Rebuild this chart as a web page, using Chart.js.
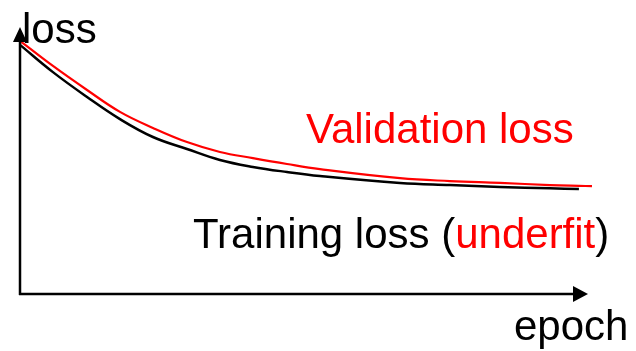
<!DOCTYPE html>
<html>
<head>
<meta charset="utf-8">
<script src="https://cdn.jsdelivr.net/npm/chart.js@4/dist/chart.umd.min.js"></script>
<style>
  html, body { margin: 0; padding: 0; background: #fff; }
  #wrap { width: 636px; height: 351px; }
</style>
</head>
<body>
<div id="wrap"><canvas id="grafico" width="636" height="351"></canvas></div>
<script>
// epochs (0..100) and loss values (0..100)
const epocas = [0, 5.8, 11.8, 17.6, 23.4, 29.4, 35.2, 41.0, 47.0, 52.8, 66.9, 75.7, 84.5, 93.3, 98.4, 100.7];
const lossTrain = [93.3, 83.1, 73.8, 65.5, 58.8, 54.3, 50.2, 47.6, 45.7, 44.2, 41.6, 40.8, 40.1, 39.6, 39.3, null];
const lossVal = [94.8, 85.4, 76.4, 68.2, 62.2, 56.9, 53.2, 50.9, 48.7, 46.8, 43.4, 42.3, 41.6, 40.8, 40.5, 40.4];

const fuente = '42px "Liberation Sans", Arial, sans-serif';

// pares {x, y} para cada serie
function pares(ys) {
  let out = [];
  for (let i = 0; i < epocas.length; i++) {
    if (ys[i] !== null) out.push({ x: epocas[i], y: ys[i] });
  }
  return out;
}

// ejes con flechas y textos
const ejesYTextos = {
  id: 'ejesYTextos',
  afterDatasetsDraw(chart) {
    const ctx = chart.ctx;
    const a = chart.chartArea;
    ctx.save();
    ctx.strokeStyle = '#000';
    ctx.fillStyle = '#000';
    ctx.lineWidth = 2.5;

    // eje y
    ctx.beginPath();
    ctx.moveTo(a.left, a.bottom + 1);
    ctx.lineTo(a.left, a.top + 14);
    ctx.stroke();
    ctx.beginPath();
    ctx.moveTo(a.left, a.top);
    ctx.lineTo(a.left - 7, a.top + 15);
    ctx.lineTo(a.left + 7, a.top + 15);
    ctx.closePath();
    ctx.fill();

    // eje x
    ctx.beginPath();
    ctx.moveTo(a.left - 1, a.bottom);
    ctx.lineTo(a.right - 14, a.bottom);
    ctx.stroke();
    ctx.beginPath();
    ctx.moveTo(a.right, a.bottom);
    ctx.lineTo(a.right - 15, a.bottom - 8);
    ctx.lineTo(a.right - 15, a.bottom + 8);
    ctx.closePath();
    ctx.fill();

    // textos
    ctx.font = fuente;
    ctx.textBaseline = 'alphabetic';
    ctx.textAlign = 'left';
    ctx.fillStyle = '#000';
    ctx.fillText('loss', a.left + 2, a.top + 16);
    ctx.fillText('epoch', a.right - 74, a.bottom + 46);

    ctx.fillStyle = '#ff0000';
    ctx.fillText('Validation loss', 306, 143);

    let x = 193;
    const y = 248;
    ctx.fillStyle = '#000';
    ctx.fillText('Training loss (', x, y);
    x += ctx.measureText('Training loss (').width;
    ctx.fillStyle = '#ff0000';
    ctx.fillText('underfit', x, y);
    x += ctx.measureText('underfit').width;
    ctx.fillStyle = '#000';
    ctx.fillText(')', x, y);
    ctx.restore();
  }
};

new Chart(document.getElementById('grafico'), {
  type: 'line',
  data: {
    datasets: [
      {
        label: 'Validation loss',
        data: pares(lossVal),
        borderColor: '#ff0000',
        borderWidth: 2.2,
        pointRadius: 0,
        tension: 0.4,
        clip: false,
        fill: false
      },
      {
        label: 'Training loss',
        data: pares(lossTrain),
        borderColor: '#000000',
        borderWidth: 2.5,
        pointRadius: 0,
        tension: 0.4,
        clip: false,
        fill: false
      }
    ]
  },
  options: {
    responsive: false,
    animation: false,
    layout: { padding: { left: 20, right: 48, top: 27, bottom: 57 } },
    plugins: { legend: { display: false }, tooltip: { enabled: false } },
    scales: {
      x: { type: 'linear', min: 0, max: 100, display: false },
      y: { min: 0, max: 100, display: false }
    }
  },
  plugins: [ejesYTextos]
});
</script>
</body>
</html>
